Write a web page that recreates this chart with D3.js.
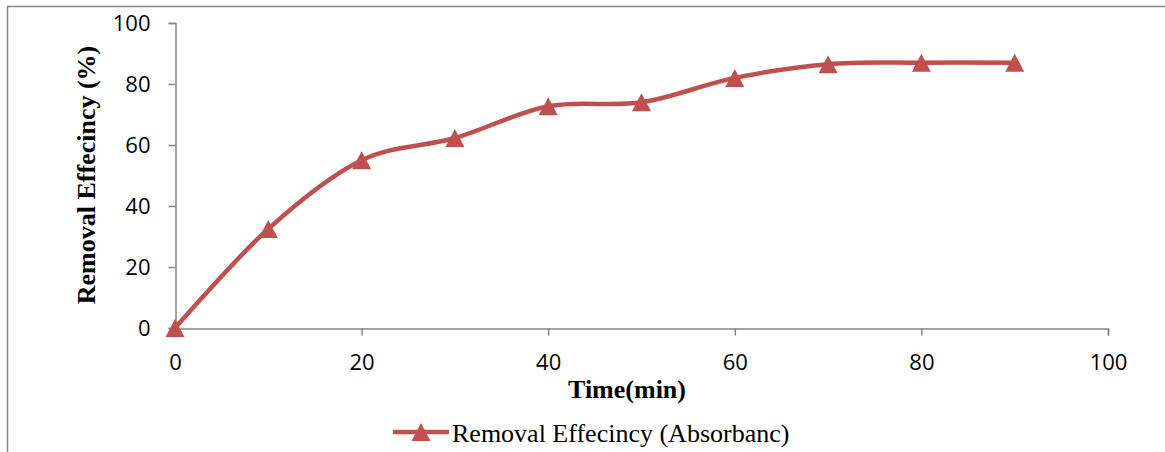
<!DOCTYPE html>
<html>
<head>
<meta charset="utf-8">
<script src="https://cdn.jsdelivr.net/npm/d3@7"></script>
<style>
  body { margin: 0; background: #fff; }
  svg { display: block; }
</style>
</head>
<body>
<svg id="chart" width="1165" height="452"></svg>
<script>
const times = [0, 10, 20, 30, 40, 50, 60, 70, 80, 90];
const efficiency = [0, 32.5, 55, 62.3, 72.7, 74, 82, 86.5, 87, 87];
const xTicks = [0, 20, 40, 60, 80, 100];
const yTicks = [0, 20, 40, 60, 80, 100];
const seriesName = "Removal Effecincy (Absorbanc)";

const svg = d3.select("#chart");
const red = "#C0504D";
const grey = "#868686";

// outer chart border (clipped at right and bottom)
svg.append("path")
    .attr("d", "M7.5,452 V6.5 H1165")
    .attr("fill", "none")
    .attr("stroke", grey)
    .attr("stroke-width", 1.5);

const x = d3.scaleLinear().domain([0, 100]).range([175, 1108]);
const y = d3.scaleLinear().domain([0, 100]).range([328, 23]);

const tickFont = "'Open Sans', 'Liberation Sans', sans-serif";
const serif = "'Liberation Serif', 'Times New Roman', serif";

// y axis
const yAxis = svg.append("g")
    .attr("transform", "translate(175.5,0)")
    .call(d3.axisLeft(y).tickValues(yTicks).tickSize(7).tickPadding(18));
yAxis.select(".domain").attr("stroke", grey).attr("stroke-width", 1.5);
yAxis.selectAll(".tick line").attr("stroke", grey).attr("stroke-width", 1.5);
yAxis.selectAll("text")
    .attr("fill", "#000")
    .style("font-family", tickFont)
    .style("font-size", "22px");

// x axis
const xAxis = svg.append("g")
    .attr("transform", "translate(0,328.5)")
    .call(d3.axisBottom(x).tickValues(xTicks).tickSize(7).tickPadding(19));
xAxis.select(".domain").attr("stroke", grey).attr("stroke-width", 1.5);
xAxis.selectAll(".tick line").attr("stroke", grey).attr("stroke-width", 1.5);
xAxis.selectAll("text")
    .attr("fill", "#000")
    .style("font-family", tickFont)
    .style("font-size", "22px");

// axis titles
svg.append("text")
    .attr("transform", "translate(95,175) rotate(-90)")
    .attr("text-anchor", "middle")
    .style("font-family", serif)
    .style("font-weight", "bold")
    .style("font-size", "26px")
    .text("Removal Effecincy (%)");

svg.append("text")
    .attr("x", 627)
    .attr("y", 398)
    .attr("text-anchor", "middle")
    .style("font-family", serif)
    .style("font-weight", "bold")
    .style("font-size", "26px")
    .text("Time(min)");

const data = times.map((t, i) => ({t: t, v: efficiency[i]}));

const line = d3.line()
    .x(d => x(d.t))
    .y(d => y(d.v))
    .curve(d3.curveCardinal.tension(0));

svg.append("path")
    .datum(data)
    .attr("d", line)
    .attr("fill", "none")
    .attr("stroke", red)
    .attr("stroke-width", 4.5)
    .attr("stroke-linejoin", "round");

// triangle marker centred on its bounding box
function tri(cx, cy, w, h) {
    return `M${cx},${cy - h / 2} L${cx + w / 2},${cy + h / 2} L${cx - w / 2},${cy + h / 2} Z`;
}

svg.selectAll(".marker")
    .data(data)
    .enter().append("path")
    .attr("class", "marker")
    .attr("d", d => tri(x(d.t), y(d.v), 19, 18))
    .attr("fill", red);

// legend
const lg = svg.append("g");
lg.append("line")
    .attr("x1", 393).attr("x2", 449)
    .attr("y1", 432).attr("y2", 432)
    .attr("stroke", red)
    .attr("stroke-width", 4.5);
lg.append("path")
    .attr("d", tri(421, 432, 19, 18))
    .attr("fill", red);
lg.append("text")
    .attr("x", 452)
    .attr("y", 442)
    .style("font-family", serif)
    .style("font-size", "26px")
    .text(seriesName);
</script>
</body>
</html>
